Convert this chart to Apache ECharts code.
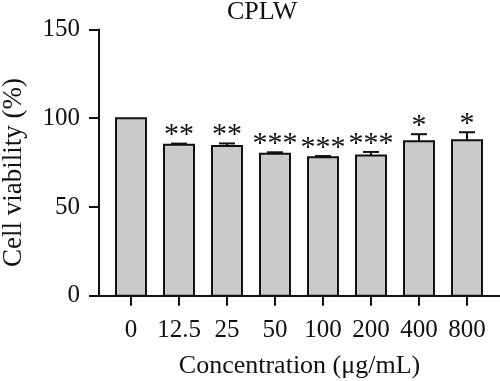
<!DOCTYPE html>
<html>
<head>
<meta charset="utf-8">
<script src="https://cdn.jsdelivr.net/npm/echarts@6/dist/echarts.min.js"></script>
<style>html,body{margin:0;padding:0;background:#fff}#c{width:500px;height:381px}</style>
</head>
<body>
<div id="c"></div>
<script>
const categories = ['0', '12.5', '25', '50', '100', '200', '400', '800'];
const viability = [100, 85, 84.3, 80, 78, 79, 87, 87.6];
const errors = [0, 0.7, 1.5, 0.8, 0.7, 2, 4, 4.5];
const stars = ['', '**', '**', '***', '***', '***', '*', '*'];
const yTicks = [0, 50, 100, 150];

const FONT = 'Liberation Serif';
const idx = categories.map((c, i) => i);
const chart = echarts.init(document.getElementById('c'));
chart.setOption({
  backgroundColor: '#fff',
  animation: false,
  title: {
    text: 'CPLW', left: 222, top: -6,
    textStyle: { fontFamily: FONT, fontSize: 26, fontWeight: 'normal', color: '#111' }
  },
  grid: { left: 99, right: 0, top: 29.5, bottom: 85.3, containLabel: false, outerBoundsMode: 'none' },
  xAxis: {
    type: 'value', min: -0.6667, max: 7.6875,
    name: 'Concentration (μg/mL)', nameLocation: 'middle', nameGap: 57,
    nameTextStyle: { fontFamily: FONT, fontSize: 26, color: '#111' },
    axisLine: { show: true, onZero: false, lineStyle: { color: '#111', width: 2 } },
    axisTick: { show: true, customValues: idx, length: 10, lineStyle: { color: '#111', width: 2 } },
    axisLabel: { customValues: idx, margin: 22, fontFamily: FONT, fontSize: 25, color: '#111',
      formatter: v => categories[Math.round(v)] },
    splitLine: { show: false }
  },
  yAxis: {
    type: 'value', min: yTicks[0], max: yTicks[yTicks.length - 1], interval: 50,
    name: 'Cell viability (%)', nameLocation: 'middle', nameGap: 72,
    nameTextStyle: { fontFamily: FONT, fontSize: 27, color: '#111', padding: [0, 20, 0, 0] },
    axisLine: { show: true, onZero: false, lineStyle: { color: '#111', width: 2 } },
    axisTick: { show: true, length: 10, lineStyle: { color: '#111', width: 2 } },
    axisLabel: { margin: 19, fontFamily: FONT, fontSize: 25, color: '#111' },
    splitLine: { show: false }
  },
  series: [
    {
      type: 'custom',
      data: viability.map((v, i) => [i, v]),
      renderItem: function (params, api) {
        const i = api.value(0), v = api.value(1);
        const p0 = api.coord([i, 0]);
        const p1 = api.coord([i, v]);
        const w = api.size([1, 0])[0] * 0.625;
        return { type: 'rect',
          shape: { x: p1[0] - w / 2, y: p1[1], width: w, height: p0[1] - p1[1] },
          style: { fill: '#cacaca', stroke: '#111', lineWidth: 2 } };
      },
      z: 3
    },
    {
      type: 'custom',
      data: viability.map((v, i) => [i, v, errors[i]]),
      renderItem: function (params, api) {
        const i = api.value(0), v = api.value(1), e = api.value(2);
        const s = stars[params.dataIndex];
        const base = api.coord([i, v]);
        const top = api.coord([i, v + e]);
        const hw = 8;
        const children = [];
        if (e > 0) {
          children.push({ type: 'line', shape: { x1: base[0], y1: base[1], x2: top[0], y2: top[1] },
            style: { stroke: '#111', lineWidth: 2 } });
          children.push({ type: 'line', shape: { x1: top[0] - hw, y1: top[1], x2: top[0] + hw, y2: top[1] },
            style: { stroke: '#111', lineWidth: 2 } });
        }
        if (s) {
          children.push({ type: 'text', x: top[0], y: top[1] + 7,
            style: { text: s, fontFamily: FONT, fontSize: 30, fill: '#111', align: 'center', verticalAlign: 'bottom' } });
        }
        return { type: 'group', children: children };
      },
      z: 5
    }
  ]
});
</script>
</body>
</html>
